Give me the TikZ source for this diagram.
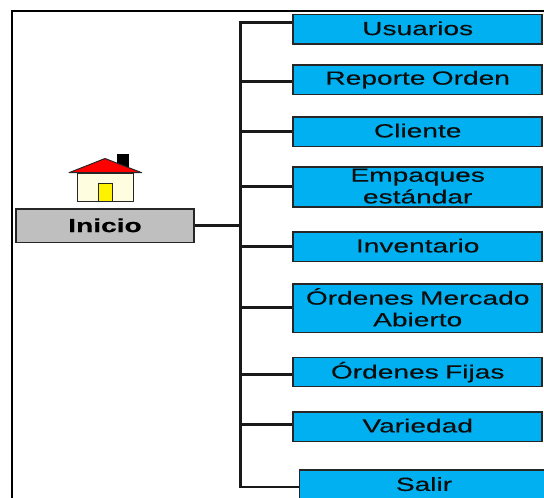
\documentclass[tikz,border=0pt]{standalone}
\usepackage{fontspec}
\setmainfont[FakeStretch=1.48,FakeBold=0.25]{Liberation Sans}
\newcommand{\lift}[2]{\raisebox{#1pt}{#2}}
\tikzset{
  menubox/.style={draw=black!85,line width=1.5pt,fill=menublue,minimum height=#1,text width=249pt,align=center,inner sep=0pt,
    font=\fontsize{19}{21.7}\selectfont,text=black!95},
  link/.style={draw=black!90,line width=2.9pt},
  homebox/.style={draw=black!85,line width=1.4pt,fill=black!25,minimum width=178pt,minimum height=33.5pt,inner sep=0pt,
    font=\fontsize{19}{21.7}\selectfont\bfseries}
}
\definecolor{menublue}{HTML}{00B0F0}
\begin{document}
\begin{tikzpicture}[x=1pt,y=-1pt]
\useasboundingbox (0,0) rectangle (544,498);
\draw[line width=2.2pt] (12,498) -- (12,11) -- (544,11);
% house
\fill[black] (116.5,154) rectangle (129,168);
\draw[black!85,line width=1pt,fill=yellow!12!white] (77,173) rectangle (133.5,201);
\draw[black!85,line width=1pt,fill=red,line join=round] (69,172.7) -- (105,158.5) -- (141.7,172.7) -- cycle;
\draw[black!85,line width=1pt,fill=yellow] (98,183) rectangle (112,201);
% nodes
\node[homebox] (inicio) at (105,225.7) {\lift{1}{Inicio}};
\coordinate (t) at (240.5,225.7);
\node[menubox=29.5pt] (usuarios) at (417.7,29.2) {\lift{2}{Usuarios}};
\node[menubox=29.5pt] (reporte) at (417.7,79.7) {Reporte Orden};
\node[menubox=29.5pt] (cliente) at (417.7,131.5) {\lift{2}{Cliente}};
\node[menubox=40pt] (empaques) at (417.7,187) {\lift{2}{Empaques}\\\lift{2}{estándar}};
\node[menubox=29.5pt] (inventario) at (417.7,246.5) {\lift{2}{Inventario}};
\node[menubox=48.5pt] (mercado) at (417.7,308.2) {\lift{2}{Órdenes Mercado}\\\lift{2}{Abierto}};
\node[menubox=29pt] (fijas) at (417.7,372.2) {Órdenes Fijas};
\node[menubox=29.5pt] (variedad) at (417.7,426.5) {\lift{2}{Variedad}};
\node[menubox=30pt] (salir) at (424,485) {\lift{2}{Salir}};
% connectors
\draw[link] (inicio.east) -- (t);
\draw[link] ([yshift=7pt]usuarios.west) -| (t);
\draw[link] ([yshift=-2pt]salir.west) -| (t);
\draw[link] ([yshift=-1.8pt]reporte.west) -- ([yshift=-1.8pt]reporte.west -| t);
\draw[link] (cliente.west) -- (cliente.west -| t);
\draw[link] ([yshift=0.5pt]empaques.west) -- ([yshift=0.5pt]empaques.west -| t);
\draw[link] (inventario.west) -- (inventario.west -| t);
\draw[link] ([yshift=1pt]mercado.west) -- ([yshift=1pt]mercado.west -| t);
\draw[link] ([yshift=-2pt]fijas.west) -- ([yshift=-2pt]fijas.west -| t);
\draw[link] ([yshift=2.2pt]variedad.west) -- ([yshift=2.2pt]variedad.west -| t);
\end{tikzpicture}
\end{document}
